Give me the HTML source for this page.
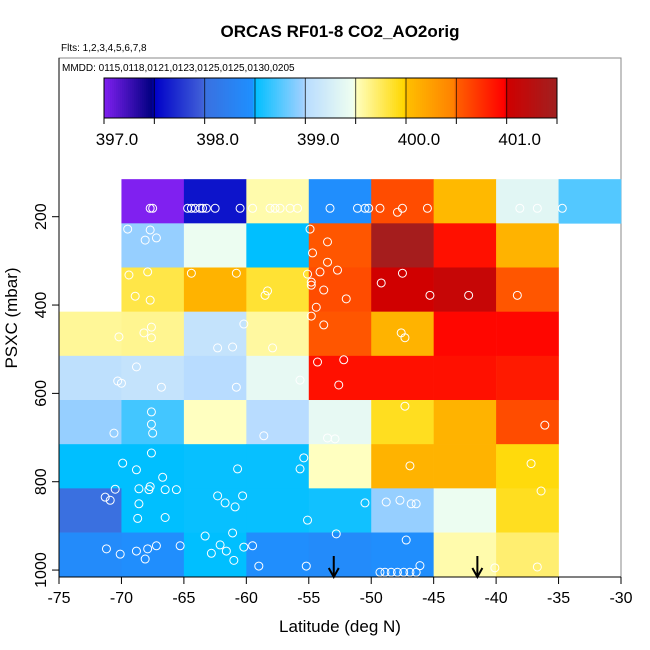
<!DOCTYPE html>
<html><head><meta charset="utf-8"><style>
body{margin:0;background:#fff}
svg{display:block;font-family:"Liberation Sans",sans-serif}
</style></head><body>
<svg id="chart" width="650" height="650" viewBox="0 0 650 650">
<text x="340" y="37" text-anchor="middle" font-size="17" font-weight="bold">ORCAS RF01-8 CO2_AO2orig</text>
<text x="61" y="51" font-size="10">Flts: 1,2,3,4,5,6,7,8</text>
<rect x="59" y="58" width="562" height="519" fill="none" stroke="#888" stroke-width="1"/>
<text x="62" y="71" font-size="10">MMDD: 0115,0118,0121,0123,0125,0125,0130,0205</text>
<g id="cbar"></g>
<g id="cells"></g>
<g id="pts"></g>
<g id="axes"></g>
<text transform="translate(17,318) rotate(-90)" text-anchor="middle" font-size="17">PSXC (mbar)</text>
<text x="340" y="632" text-anchor="middle" font-size="17">Latitude (deg N)</text>
</svg>
<script>
const latEdges=[-75,-70,-65,-60,-55,-50,-45,-40,-35,-30];
const presEdges=[115,215,315,415,515,615,715,815,915,1015];
const xTicks=[-75,-70,-65,-60,-55,-50,-45,-40,-35,-30];
const yTicks=[200,400,600,800,1000];
const cbarTicks=[397.0,398.0,399.0,400.0,401.0];
const row0=[null,397.0,397.6,399.55,398.45,400.6,400.05,399.35,398.75];
const row1=[null,398.95,399.45,398.5,400.55,401.45,400.9,400.1,null];
const row2=[null,399.8,400.1,399.85,400.6,401.0,401.1,400.55,null];
const row3=[399.6,399.62,399.1,399.58,400.55,400.1,400.95,400.95,null];
const row4=[399.05,399.1,399.0,399.4,400.9,400.9,400.9,400.85,null];
const row5=[398.95,398.7,399.5,399.0,399.4,399.9,400.1,400.6,null];
const row6=[398.5,398.5,398.52,398.52,399.5,400.1,400.1,399.95,null];
const row7=[398.0,398.5,398.52,398.52,398.55,398.95,399.45,399.9,null];
const row8=[398.4,398.45,398.5,398.45,398.4,398.45,399.55,399.7,null];
const ptLat=[-67.7,-67.5,-64.7,-64.4,-64.1,-63.7,-63.5,-63.2,-62.5,-60.5,-59.5,-58.1,-57.7,-57.3,-56.5,-55.9,-53.3,-51.1,-50.5,-50.2,-49.3,-47.5,-45.5,-38.1,-36.7,-34.7,-47.9,
-67.7,-68.1,-67.2,-69.5,-54.9,-53.5,-54.7,-54.8,-54.8,-53.5,-52.7,
-69.4,-67.9,-68.9,-67.7,-64.4,-60.8,-58.5,-58.3,-54.1,-55.1,-53.8,-54.4,-52.0,-47.5,-49.2,-45.3,-42.2,-38.3,
-70.2,-68.2,-67.6,-67.6,-62.3,-61.1,-60.2,-57.9,-53.8,-54.8,-47.6,-47.3,
-70.3,-70.0,-66.8,-68.8,-60.8,-55.7,-54.3,-52.6,-52.2,
-70.6,-67.6,-67.5,-67.6,-58.6,-47.3,-36.1,-53.5,-52.9,
-69.9,-68.8,-67.6,-66.7,-67.7,-60.7,-55.7,-55.4,-46.9,-37.2,-36.4,
-71.3,-70.9,-70.5,-68.6,-68.6,-67.8,-66.5,-65.6,-68.7,-66.5,-62.3,-61.7,-60.9,-60.3,-55.1,-47.7,-48.8,-46.8,-46.4,-50.5,
-71.2,-70.1,-68.8,-67.9,-67.2,-68.1,-65.3,-63.3,-62.8,-61.6,-62.1,-61.1,-60.2,-59.5,-59.0,-61.0,-55.2,-52.8,-47.2,-49.3,-48.9,-48.4,-47.9,-47.4,-46.9,-46.4,-46.1,-40.1,-36.7];
const ptPres=[181,181,181,181,181,181,181,181,181,181,181,181,181,181,181,181,181,181,181,181,181,181,181,181,181,181,190,
230,253,248,228,228,257,282,355,348,303,321,
332,325,380,389,328,328,378,368,325,330,366,405,386,328,350,378,378,378,
472,463,450,474,497,495,443,497,445,425,463,474,
572,577,586,540,586,570,529,581,524,
690,670,690,642,696,629,672,701,703,
758,773,735,790,811,771,771,746,764,759,821,
835,842,817,850,816,818,818,818,883,881,832,848,857,832,887,842,846,850,850,848,
952,964,957,952,945,975,945,923,962,957,943,916,948,945,991,978,991,918,932,1005,1005,1005,1005,1005,1005,1005,990,995,993];
const arrowLat=[-53,-41.5];

const rows=[row0,row1,row2,row3,row4,row5,row6,row7,row8];
const NS='http://www.w3.org/2000/svg';
const X=v=>59+(v+75)*562/45;
const Y=p=>216.7+(p-200)*0.4417;
const stops=[[397.0,'#8020f0'],[397.48,'#000080'],[397.5,'#0000c8'],[397.98,'#4060d8'],[398.0,'#3a70e0'],[398.48,'#1e90ff'],[398.5,'#00bfff'],[398.98,'#a0d0ff'],[399.0,'#b8dcff'],[399.48,'#f0fff0'],[399.5,'#ffffc0'],[399.98,'#ffd700'],[400.0,'#ffc000'],[400.48,'#ff8000'],[400.5,'#ff6000'],[400.98,'#ff0000'],[401.0,'#d00000'],[401.5,'#a02020']];
function hex(c){return [1,3,5].map(i=>parseInt(c.substr(i,2),16));}
function cmap(v){
  if(v<=stops[0][0])return stops[0][1];
  for(let i=1;i<stops.length;i++){if(v<=stops[i][0]){const a=hex(stops[i-1][1]),b=hex(stops[i][1]);const t=(v-stops[i-1][0])/(stops[i][0]-stops[i-1][0]);return 'rgb('+a.map((x,k)=>Math.round(x+(b[k]-x)*t)).join(',')+')';}}
  return stops[stops.length-1][1];
}
function mk(tag,attrs,parent){const e=document.createElementNS(NS,tag);for(const k in attrs)e.setAttribute(k,attrs[k]);parent.appendChild(e);return e;}
const cb=document.getElementById('cbar');
const CX=v=>104+(v-397)*(557-104)/4.5;
for(let v=397;v<401.49;v+=0.02){const r=mk('rect',{x:CX(v),y:78,width:CX(v+0.02)-CX(v)+0.5,height:40,fill:cmap(v+0.01)},cb);

}
mk('rect',{x:104,y:78,width:453,height:40,fill:'none',stroke:'#000'},cb);
for(let v=397.5;v<401.5;v+=0.5){const l=mk('line',{x1:CX(v),x2:CX(v),y1:78,y2:118,stroke:'#000','stroke-opacity':0.7},cb);

}
for(let v=397;v<=401.5;v+=0.5){const l=mk('line',{x1:CX(v),x2:CX(v),y1:118,y2:124,stroke:'#000'},cb);

}
cbarTicks.forEach(v=>{const t=mk('text',{x:CX(v)+13,y:145,'text-anchor':'middle','font-size':17},cb);t.textContent=v.toFixed(1);

});
const cg=document.getElementById('cells');
rows.forEach((row,ri)=>row.forEach((v,ci)=>{if(v==null)return;
const r=mk('rect',{x:X(latEdges[ci]),y:Y(presEdges[ri]),width:X(latEdges[ci+1])-X(latEdges[ci])+0.3,height:Y(presEdges[ri+1])-Y(presEdges[ri])+0.3,fill:cmap(v)},cg);

}));
const pg=document.getElementById('pts');
ptLat.forEach((la,i)=>{const c=mk('circle',{cx:X(la),cy:Y(ptPres[i]),r:4,fill:'none',stroke:'#fff','stroke-width':1},pg);

});
arrowLat.forEach(la=>{const x=X(la);const g=mk('g',{},pg);


mk('line',{x1:x,x2:x,y1:556,y2:576,stroke:'#000','stroke-width':2},g);
mk('path',{d:`M${x-5},${568} L${x},${577} L${x+5},${568}`,fill:'none',stroke:'#000','stroke-width':2},g);});
const ax=document.getElementById('axes');
mk('line',{x1:59,x2:621,y1:577,y2:577,stroke:'#000'},ax);
mk('line',{x1:59,x2:59,y1:58,y2:577,stroke:'#000'},ax);
xTicks.forEach(v=>{const x=X(v);mk('line',{x1:x,x2:x,y1:577,y2:584,stroke:'#000'},ax);
const t=mk('text',{x:x,y:603,'text-anchor':'middle','font-size':16},ax);t.textContent=v;

});
yTicks.forEach(v=>{const y=Y(v);mk('line',{x1:52,x2:59,y1:y,y2:y,stroke:'#000'},ax);
const t=mk('text',{transform:`translate(46,${y}) rotate(-90)`,'text-anchor':'middle','font-size':16},ax);t.textContent=v;

});
</script>
</body></html>
